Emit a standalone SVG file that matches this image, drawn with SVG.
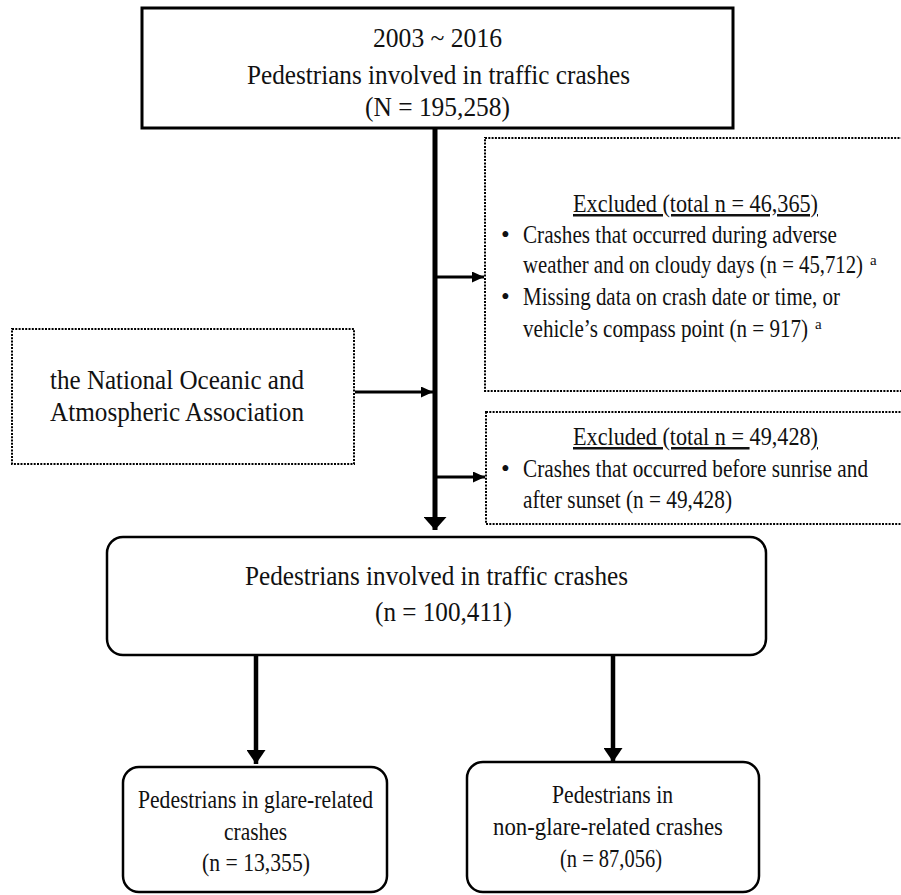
<svg xmlns="http://www.w3.org/2000/svg" width="901" height="895" viewBox="0 0 901 895">
<defs>
<style>
.t{font-family:"Liberation Serif","Times New Roman",serif;fill:#111;}
.c{text-anchor:middle;}
.solid{fill:#fff;stroke:#000;stroke-width:3;}
.round{fill:#fff;stroke:#000;stroke-width:2.5;}
.dot{fill:#fff;stroke:#000;stroke-width:2;stroke-dasharray:2 1.3;}
.ln{stroke:#000;fill:none;}
.u{text-decoration:underline;}
.L{font-size:28px;}
.M{font-size:25px;}
.S{font-size:25.5px;}
.sup{font-size:15px;}
</style>
<marker id="big" markerUnits="userSpaceOnUse" viewBox="0 0 13 23" markerWidth="13" markerHeight="23" refX="13" refY="11.5" orient="auto"><path d="M0,0 L13,11.5 L0,23 z" fill="#000"/></marker>
<marker id="mid" markerUnits="userSpaceOnUse" viewBox="0 0 14 19" markerWidth="14" markerHeight="19" refX="14" refY="9.5" orient="auto"><path d="M0,0 L14,9.5 L0,19 z" fill="#000"/></marker>
<marker id="sm" markerUnits="userSpaceOnUse" viewBox="0 0 12 11" markerWidth="12" markerHeight="11" refX="12" refY="5.5" orient="auto"><path d="M0,0 L12,5.5 L0,11 z" fill="#000"/></marker>
</defs>
<rect width="901" height="895" fill="#fff"/>

<g id="connectors">
<line class="ln" x1="435" y1="128" x2="435" y2="530" stroke-width="5" marker-end="url(#big)"/>
<line class="ln" x1="437" y1="277" x2="484" y2="277" stroke-width="3" marker-end="url(#sm)"/>
<line class="ln" x1="437" y1="477" x2="485" y2="477" stroke-width="3" marker-end="url(#sm)"/>
<line class="ln" x1="355" y1="392" x2="433" y2="392" stroke-width="3" marker-end="url(#sm)"/>
<line class="ln" x1="256" y1="655" x2="256" y2="764" stroke-width="4.5" marker-end="url(#mid)"/>
<line class="ln" x1="613" y1="655" x2="613" y2="762" stroke-width="4.5" marker-end="url(#mid)"/>
</g>

<g id="source">
<rect class="solid" x="142" y="8" width="591" height="120"/>
<text class="t c L" x="437.5" y="47" textLength="129" lengthAdjust="spacingAndGlyphs">2003 ~ 2016</text>
<text class="t c L" x="438.5" y="84" textLength="383" lengthAdjust="spacingAndGlyphs">Pedestrians involved in traffic crashes</text>
<text class="t c L" x="437.5" y="116" textLength="145" lengthAdjust="spacingAndGlyphs">(N = 195,258)</text>
</g>

<g id="exclusion1">
<rect class="dot" x="485" y="138" width="440" height="253"/>
<text class="t M" x="573" y="212" textLength="245" lengthAdjust="spacingAndGlyphs"><tspan class="u">Excluded (total n = 46,365)</tspan></text>
<text class="t M" x="501" y="243">•</text>
<text class="t M" x="523" y="243" textLength="314" lengthAdjust="spacingAndGlyphs">Crashes that occurred during adverse</text>
<text class="t M" x="523" y="273" textLength="340" lengthAdjust="spacingAndGlyphs">weather and on cloudy days (n = 45,712)</text>
<text class="t sup" x="870" y="265">a</text>
<text class="t M" x="501" y="305">•</text>
<text class="t M" x="523" y="305" textLength="317" lengthAdjust="spacingAndGlyphs">Missing data on crash date or time, or</text>
<text class="t M" x="523" y="337" textLength="285" lengthAdjust="spacingAndGlyphs">vehicle’s compass point (n = 917)</text>
<text class="t sup" x="815" y="329">a</text>
</g>

<g id="noaa">
<rect class="dot" x="12" y="329" width="342" height="135"/>
<text class="t L" x="50" y="389" textLength="254" lengthAdjust="spacingAndGlyphs">the National Oceanic and</text>
<text class="t L" x="50" y="421" textLength="254" lengthAdjust="spacingAndGlyphs">Atmospheric Association</text>
</g>

<g id="exclusion2">
<rect class="dot" x="486" y="412" width="440" height="112"/>
<text class="t M" x="573" y="445" textLength="245" lengthAdjust="spacingAndGlyphs"><tspan class="u">Excluded (total n = </tspan><tspan>49,428</tspan><tspan class="u">)</tspan></text>
<text class="t M" x="501" y="477">•</text>
<text class="t M" x="523" y="477" textLength="345" lengthAdjust="spacingAndGlyphs">Crashes that occurred before sunrise and</text>
<text class="t M" x="523" y="508" textLength="209" lengthAdjust="spacingAndGlyphs">after sunset (n = 49,428)</text>
</g>

<g id="eligible">
<rect class="round" x="107" y="537" width="659" height="118" rx="16"/>
<text class="t c L" x="436.5" y="585" textLength="383" lengthAdjust="spacingAndGlyphs">Pedestrians involved in traffic crashes</text>
<text class="t c L" x="443.5" y="621" textLength="137" lengthAdjust="spacingAndGlyphs">(n = 100,411)</text>
</g>

<g id="glare">
<rect class="round" x="123" y="767" width="264" height="125" rx="16"/>
<text class="t c S" x="255.5" y="808" textLength="235" lengthAdjust="spacingAndGlyphs">Pedestrians in glare-related</text>
<text class="t c S" x="255.5" y="840" textLength="63" lengthAdjust="spacingAndGlyphs">crashes</text>
<text class="t c S" x="256" y="871" textLength="108" lengthAdjust="spacingAndGlyphs">(n = 13,355)</text>
</g>

<g id="nonglare">
<rect class="round" x="467" y="762" width="292" height="130" rx="16"/>
<text class="t c S" x="612.5" y="803" textLength="121" lengthAdjust="spacingAndGlyphs">Pedestrians in</text>
<text class="t c S" x="608" y="835" textLength="230" lengthAdjust="spacingAndGlyphs">non-glare-related crashes</text>
<text class="t c S" x="611" y="867" textLength="102" lengthAdjust="spacingAndGlyphs">(n = 87,056)</text>
</g>
</svg>
